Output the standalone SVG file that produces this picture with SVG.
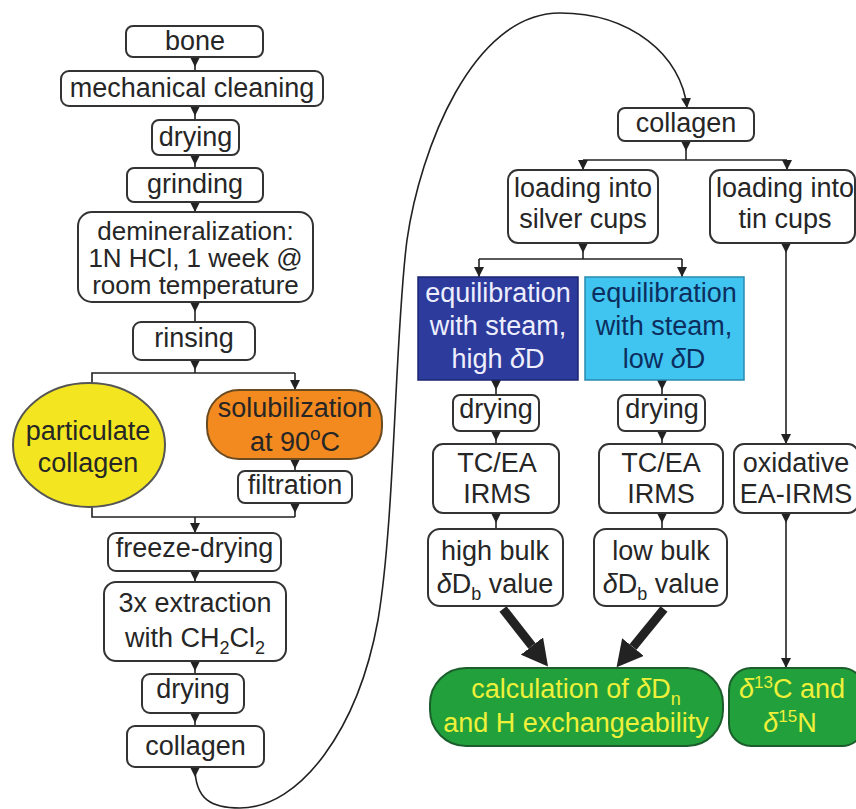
<svg xmlns="http://www.w3.org/2000/svg" width="856" height="809" viewBox="0 0 856 809">
<defs>
<style>
text{font-family:"Liberation Sans",Arial,sans-serif;font-size:27px;fill:#262626;text-anchor:middle}
.b{fill:#fff;stroke:#333;stroke-width:2}
.c{fill:none;stroke:#222;stroke-width:1.6}
.t{fill:none;stroke:#222;stroke-width:9}
.g{fill:#22a03c;stroke:#1b5e2c;stroke-width:2}
.y{fill:#eef03a}
.w{fill:#eeeeff}
.n{fill:#0c2e5e}
.d{font-size:26px}
.i{font-style:italic}
</style>
<marker id="s" viewBox="0 0 10 10" refX="0" refY="5" markerWidth="10" markerHeight="10" markerUnits="userSpaceOnUse" orient="auto"><path d="M0,0 L10,5 L0,10 z" fill="#222"/></marker>
<marker id="a" viewBox="0 0 10 10" refX="10" refY="5" markerWidth="10" markerHeight="10" markerUnits="userSpaceOnUse" orient="auto"><path d="M0,0 L10,5 L0,10 z" fill="#222"/></marker>
<marker id="big" viewBox="0 0 26 28" refX="0" refY="14" markerWidth="26" markerHeight="28" markerUnits="userSpaceOnUse" orient="auto"><path d="M0,0 L26,14 L0,28 z" fill="#222"/></marker>
</defs>

<g id="connectors">
<path class="c" d="M195,57 V71" marker-start="url(#s)"/>
<path class="c" d="M195,106 V120" marker-start="url(#s)"/>
<path class="c" d="M195,155 V168" marker-start="url(#s)"/>
<path class="c" d="M195,202 V212" marker-start="url(#s)"/>
<path class="c" d="M195,302 V322" marker-start="url(#s)"/>
<path class="c" d="M195,360 V373" marker-start="url(#s)"/>
<path class="c" d="M92,383 V373 H295"/>
<path class="c" d="M295,373 V390" marker-end="url(#a)"/>
<path class="c" d="M295,459 V471" marker-start="url(#s)"/>
<path class="c" d="M295,503 V517" marker-start="url(#s)"/>
<path class="c" d="M92,507 V517 H295"/>
<path class="c" d="M195,517 V533" marker-end="url(#a)"/>
<path class="c" d="M195,571 V582" marker-start="url(#s)"/>
<path class="c" d="M195,661 V674" marker-start="url(#s)"/>
<path class="c" d="M195,713 V726" marker-start="url(#s)"/>
<path class="c" d="M195,767 C195,800 212,808 240,808 C300,808 358,730 378,620 C395,520 395,330 407,240 C420,150 472,13 560,13 C630,13 682,55 687,108" marker-start="url(#s)" marker-end="url(#a)"/>
<path class="c" d="M686,141 V160" marker-start="url(#s)"/>
<path class="c" d="M583,160 H787"/>
<path class="c" d="M583,160 V170" marker-end="url(#a)"/>
<path class="c" d="M787,160 V170" marker-end="url(#a)"/>
<path class="c" d="M583,243 V259" marker-start="url(#s)"/>
<path class="c" d="M479,259 H682"/>
<path class="c" d="M479,259 V277" marker-end="url(#a)"/>
<path class="c" d="M682,259 V277" marker-end="url(#a)"/>
<path class="c" d="M496,380 V395" marker-start="url(#s)"/>
<path class="c" d="M496,431 V444" marker-start="url(#s)"/>
<path class="c" d="M496,513 V529" marker-start="url(#s)"/>
<path class="c" d="M662,380 V395" marker-start="url(#s)"/>
<path class="c" d="M662,431 V444" marker-start="url(#s)"/>
<path class="c" d="M662,513 V529" marker-start="url(#s)"/>
<path class="c" d="M786,243 V444" marker-start="url(#s)" marker-end="url(#a)"/>
<path class="c" d="M786,513 V668" marker-start="url(#s)" marker-end="url(#a)"/>
<path class="t" d="M503,609 L532,646" marker-end="url(#big)"/>
<path class="t" d="M664,609 L633,647" marker-end="url(#big)"/>
</g>

<g id="n-bone"><rect class="b" x="126" y="26" width="137" height="31" rx="7"/><text x="195" y="50">bone</text></g>
<g id="n-mech"><rect class="b" x="61" y="71" width="262" height="35" rx="8"/><text x="192" y="97">mechanical cleaning</text></g>
<g id="n-drying1"><rect class="b" x="152" y="120" width="87" height="35" rx="7"/><text x="195.5" y="146">drying</text></g>
<g id="n-grinding"><rect class="b" x="127" y="168" width="136" height="34" rx="7"/><text x="195" y="193">grinding</text></g>
<g id="n-demin"><rect class="b" x="78" y="212" width="235" height="90" rx="14"/><text class="d" x="195.5" y="240">demineralization:</text><text class="d" x="195.5" y="267">1N HCl, 1 week @</text><text class="d" x="195.5" y="294">room temperature</text></g>
<g id="n-rinsing"><rect class="b" x="133" y="322" width="122" height="38" rx="8"/><text x="194" y="347">rinsing</text></g>
<g id="n-particulate"><ellipse cx="89" cy="445" rx="76" ry="62" fill="#f3e620" stroke="#555" stroke-width="2"/><text x="88" y="440">particulate</text><text x="88" y="472">collagen</text></g>
<g id="n-solub"><rect x="207" y="390" width="175" height="69" rx="32" fill="#f28a20" stroke="#6a4a20" stroke-width="2"/><text x="295" y="417">solubilization</text><text x="295" y="451">at 90<tspan dy="-11" font-size="19">o</tspan><tspan dy="11">C</tspan></text></g>
<g id="n-filtration"><rect class="b" x="238" y="471" width="114" height="32" rx="7"/><text x="295" y="494">filtration</text></g>
<g id="n-freeze"><rect class="b" x="108" y="533" width="173" height="38" rx="8"/><text x="194.5" y="557">freeze-drying</text></g>
<g id="n-extraction"><rect class="b" x="104" y="582" width="182" height="79" rx="12"/><text x="195" y="612">3x extraction</text><text x="195" y="647">with CH<tspan dy="7" font-size="18">2</tspan><tspan dy="-7">Cl</tspan><tspan dy="7" font-size="18">2</tspan></text></g>
<g id="n-drying2"><rect class="b" x="142" y="674" width="102" height="39" rx="8"/><text x="193" y="698">drying</text></g>
<g id="n-collagen1"><rect class="b" x="127" y="726" width="137" height="41" rx="8"/><text x="195.5" y="755">collagen</text></g>

<g id="n-collagen2"><rect class="b" x="618" y="108" width="136" height="33" rx="7"/><text x="686" y="132">collagen</text></g>
<g id="n-silver"><rect class="b" x="508" y="170" width="150" height="73" rx="10"/><text x="583" y="197">loading into</text><text x="583" y="228">silver cups</text></g>
<g id="n-tin"><rect class="b" x="710" y="170" width="145" height="73" rx="10"/><text x="785" y="197">loading into</text><text x="785" y="228">tin cups</text></g>
<g id="n-equil-high"><rect x="418" y="277" width="160" height="103" fill="#2d3c9c" stroke="#1c2470" stroke-width="1.5"/><text class="w" x="498" y="302">equilibration</text><text class="w" x="498" y="335">with steam,</text><text class="w" x="498" y="368">high <tspan class="i">δ</tspan>D</text></g>
<g id="n-equil-low"><rect x="585" y="277" width="159" height="103" fill="#40c4f0" stroke="#2a8ab0" stroke-width="1.5"/><text class="n" x="664" y="302">equilibration</text><text class="n" x="664" y="335">with steam,</text><text class="n" x="664" y="368">low <tspan class="i">δ</tspan>D</text></g>
<g id="n-drying3"><rect class="b" x="453" y="395" width="86" height="36" rx="7"/><text x="496" y="418">drying</text></g>
<g id="n-drying4"><rect class="b" x="618" y="395" width="87" height="36" rx="7"/><text x="662" y="418">drying</text></g>
<g id="n-tcea1"><rect class="b" x="433" y="444" width="126" height="69" rx="10"/><text x="497" y="472">TC/EA</text><text x="497" y="503">IRMS</text></g>
<g id="n-tcea2"><rect class="b" x="599" y="444" width="124" height="69" rx="10"/><text x="661" y="472">TC/EA</text><text x="661" y="503">IRMS</text></g>
<g id="n-oxid"><rect class="b" x="734" y="444" width="124" height="69" rx="10"/><text x="796" y="472">oxidative</text><text x="796" y="503">EA-IRMS</text></g>
<g id="n-hbulk"><rect class="b" x="428" y="529" width="135" height="77" rx="12"/><text x="495" y="560">high bulk</text><text x="495" y="593"><tspan class="i">δ</tspan>D<tspan dy="7" font-size="18">b</tspan><tspan dy="-7"> value</tspan></text></g>
<g id="n-lbulk"><rect class="b" x="594" y="529" width="133" height="77" rx="12"/><text x="661" y="560">low bulk</text><text x="661" y="593"><tspan class="i">δ</tspan>D<tspan dy="7" font-size="18">b</tspan><tspan dy="-7"> value</tspan></text></g>
<g id="n-calc"><rect class="g" x="430" y="668" width="293" height="78" rx="36"/><text class="y" x="576" y="698">calculation of <tspan class="i">δ</tspan>D<tspan dy="7" font-size="18">n</tspan></text><text class="y" x="576" y="732">and H exchangeability</text></g>
<g id="n-d13c"><rect class="g" x="729" y="668" width="135" height="78" rx="22"/><text class="y" x="792" y="698"><tspan class="i">δ</tspan><tspan dy="-10" font-size="17">13</tspan><tspan dy="10">C and</tspan></text><text class="y" x="790" y="732"><tspan class="i">δ</tspan><tspan dy="-10" font-size="17">15</tspan><tspan dy="10">N</tspan></text></g>
</svg>
